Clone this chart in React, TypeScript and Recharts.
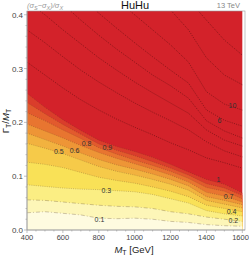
import React from 'react'
import { ComposedChart, Area, Line, Scatter, XAxis, YAxis } from 'recharts'

// grid of top-quark-partner masses (GeV)
const massPoints = [400, 500, 600, 700, 800, 900, 1000, 1100, 1200, 1300, 1400, 1500, 1600]

// contour levels of (sigma_S - sigma_X)/sigma_X, given as Gamma_T/M_T along the mass grid
const level10 = [0.254, 0.228, 0.205, 0.185, 0.167, 0.155, 0.146, 0.135, 0.122, 0.108, 0.094, 0.085, 0.069]
const level09 = [0.237, 0.216, 0.196, 0.178, 0.16, 0.148, 0.138, 0.127, 0.115, 0.102, 0.086, 0.078, 0.064]
const level08 = [0.218, 0.203, 0.186, 0.17, 0.153, 0.141, 0.13, 0.12, 0.109, 0.096, 0.079, 0.072, 0.058]
const level07 = [0.197, 0.184, 0.171, 0.157, 0.144, 0.133, 0.123, 0.113, 0.102, 0.089, 0.07, 0.063, 0.052]
const level06 = [0.18, 0.168, 0.156, 0.143, 0.131, 0.121, 0.113, 0.104, 0.094, 0.082, 0.062, 0.055, 0.047]
const level05 = [0.161, 0.152, 0.142, 0.13, 0.118, 0.109, 0.102, 0.094, 0.085, 0.074, 0.055, 0.048, 0.041]
const level04 = [0.126, 0.122, 0.116, 0.107, 0.098, 0.092, 0.087, 0.08, 0.072, 0.062, 0.046, 0.04, 0.034]
const level03 = [0.084, 0.081, 0.078, 0.076, 0.075, 0.073, 0.071, 0.066, 0.058, 0.05, 0.036, 0.03, 0.026]
const level02 = [0.056, 0.055, 0.052, 0.049, 0.046, 0.044, 0.043, 0.04, 0.034, 0.03, 0.024, 0.02, 0.016]
const level01 = [0.032, 0.034, 0.031, 0.028, 0.022, 0.021, 0.022, 0.02, 0.016, 0.014, 0.01, 0.008, 0.007]

// higher contours inside the saturated (red) region
const level2 = [0.312, 0.288, 0.264, 0.242, 0.223, 0.206, 0.191, 0.177, 0.162, 0.149, 0.134, 0.125, 0.115]
const level3 = [0.372, 0.348, 0.322, 0.297, 0.275, 0.255, 0.236, 0.219, 0.203, 0.186, 0.164, 0.147, 0.136]
const level4 = [0.424, 0.4, 0.372, 0.346, 0.32, 0.297, 0.275, 0.255, 0.236, 0.217, 0.186, 0.167, 0.156]
const level5 = [0.474, 0.45, 0.42, 0.39, 0.362, 0.336, 0.312, 0.288, 0.268, 0.245, 0.203, 0.184, 0.171]
const level6 = [0.53, 0.498, 0.465, 0.433, 0.403, 0.375, 0.348, 0.322, 0.297, 0.273, 0.223, 0.204, 0.193]
const level10x = [0.576, 0.543, 0.511, 0.483, 0.455, 0.428, 0.4, 0.372, 0.344, 0.312, 0.257, 0.234, 0.223]
const level20 = [null, null, null, null, null, null, null, 0.446, 0.409, 0.372, 0.32, 0.288, 0.27]
const level30 = [null, null, null, null, null, null, null, null, null, 0.428, 0.39, 0.353, 0.325]

const contourLabels = [
  { m: 577, g: 0.145, text: '0.5' },
  { m: 665, g: 0.147, text: '0.6' },
  { m: 732, g: 0.16, text: '0.8' },
  { m: 848, g: 0.154, text: '0.9' },
  { m: 842, g: 0.074, text: '0.3' },
  { m: 804, g: 0.02, text: '0.1' },
  { m: 1467, g: 0.093, text: '1' },
  { m: 1523, g: 0.063, text: '0.7' },
  { m: 1540, g: 0.035, text: '0.4' },
  { m: 1550, g: 0.017, text: '0.2' },
  { m: 1473, g: 0.204, text: '6' },
  { m: 1545, g: 0.232, text: '10' },
]

const xTicks = [400, 450, 500, 550, 600, 650, 700, 750, 800, 850, 900, 950, 1000, 1050, 1100, 1150, 1200, 1250, 1300, 1350, 1400, 1450, 1500, 1550, 1600]
const yTicks = [0, 0.02, 0.04, 0.06, 0.08, 0.1, 0.12, 0.14, 0.16, 0.18, 0.2, 0.22, 0.24, 0.26, 0.28, 0.3, 0.32, 0.34, 0.36, 0.38, 0.4]

const data = massPoints.map((m, i) => ({
  m,
  c10: level10[i],
  c09: level09[i],
  c08: level08[i],
  c07: level07[i],
  c06: level06[i],
  c05: level05[i],
  c04: level04[i],
  c03: level03[i],
  c02: level02[i],
  c01: level01[i],
  r2: level2[i],
  r3: level3[i],
  r4: level4[i],
  r5: level5[i],
  r6: level6[i],
  r10: level10x[i],
  r20: level20[i],
  r30: level30[i],
}))

// fill below each contour = colour of the band just under it
const bands = [
  { key: 'c10', fill: '#DA3D2B', dash: '1 1.2' },
  { key: 'c09', fill: '#E25A2D', dash: '1 1.2' },
  { key: 'c08', fill: '#E87530', dash: '1 1.2' },
  { key: 'c07', fill: '#EE9536', dash: '1 1.2' },
  { key: 'c06', fill: '#F2B23F', dash: '1 1.2' },
  { key: 'c05', fill: '#F6CA49', dash: '1 1.2' },
  { key: 'c04', fill: '#F9E157', dash: '1 1.2' },
  { key: 'c03', fill: '#FBEE83', dash: '1 1.2' },
  { key: 'c02', fill: '#FDF6B8', dash: '4 2 1 2' },
  { key: 'c01', fill: '#FEFBE0', dash: '4 2 1 2' },
]
const redLines = ['r2', 'r3', 'r4', 'r5', 'r6', 'r10', 'r20', 'r30']

const FONT = '"Liberation Sans", Arial, sans-serif'
const RED = '#D3222A'

function XTick({ x, y, payload }: any) {
  const major = payload.value % 200 === 0
  return (
    <g>
      <line x1={x} x2={x} y1={y} y2={y + (major ? 3 : 1.5)} stroke="#999" strokeWidth={0.6} />
      {major && (
        <text x={Math.min(x, 240.5)} y={y + 10} textAnchor="middle" fontSize={7.5} fill="#444" fontFamily={FONT}>
          {payload.value}
        </text>
      )}
    </g>
  )
}

function YTick({ x, y, payload }: any) {
  const v = payload.value
  const major = Math.abs(v * 10 - Math.round(v * 10)) < 1e-6
  return (
    <g>
      <line x1={x} x2={x - (major ? 3 : 1.5)} y1={y} y2={y} stroke="#999" strokeWidth={0.6} />
      {major && (
        <text x={x - 4} y={y + 3} textAnchor="end" fontSize={8} fill="#444" fontFamily={FONT}>
          {v.toFixed(1)}
        </text>
      )}
    </g>
  )
}

function ContourLabel(props: any) {
  const { cx, cy, payload } = props
  return (
    <text x={cx} y={cy + 2.5} textAnchor="middle" fontSize={7} fill="#333" fontFamily={FONT}>
      {payload.text}
    </text>
  )
}

export default function App() {
  return (
    <div style={{ position: 'absolute', left: 0, top: 0, width: 249, height: 256 }}>
      <ComposedChart width={249} height={256} data={data} margin={{ top: 11, right: 4, bottom: 0, left: 0 }}>
        <XAxis
          dataKey="m"
          type="number"
          domain={[400, 1615]}
          ticks={xTicks}
          interval={0}
          allowDataOverflow
          tick={<XTick />}
          tickLine={false}
          tickSize={0}
          tickMargin={0}
          height={26}
          axisLine={{ stroke: '#aaa', strokeWidth: 0.8 }}
        />
        <YAxis
          type="number"
          domain={[0, 0.407]}
          ticks={yTicks}
          interval={0}
          allowDataOverflow
          tick={<YTick />}
          tickLine={false}
          tickSize={0}
          tickMargin={0}
          width={27}
          axisLine={{ stroke: '#aaa', strokeWidth: 0.8 }}
        />
        <Area
          dataKey={() => 0.407}
          type="linear"
          fill={RED}
          fillOpacity={1}
          stroke="none"
          baseValue={0}
          isAnimationActive={false}
          dot={false}
          activeDot={false}
        />
        {bands.map((b) => (
          <Area
            key={b.key}
            dataKey={b.key}
            type="linear"
            fill={b.fill}
            fillOpacity={1}
            stroke="#4a3020"
            strokeOpacity={0.45}
            strokeWidth={0.6}
            strokeDasharray={b.dash}
            baseValue={0}
            isAnimationActive={false}
            dot={false}
            activeDot={false}
          />
        ))}
        {redLines.map((k) => (
          <Line
            key={k}
            dataKey={k}
            type="linear"
            stroke="#4a0a0a"
            strokeOpacity={0.75}
            strokeWidth={0.7}
            strokeDasharray="1 1.3"
            isAnimationActive={false}
            dot={false}
            activeDot={false}
          />
        ))}
        <Scatter
          data={contourLabels}
          dataKey="g"
          shape={<ContourLabel />}
          isAnimationActive={false}
        />
      </ComposedChart>
      <svg
        width={249}
        height={256}
        style={{ position: 'absolute', left: 0, top: 0, pointerEvents: 'none' }}
        fontFamily={FONT}
      >
        <rect x={27} y={11} width={218} height={219} fill="none" stroke="#999" strokeWidth={0.6} />
        <text x={27} y={8} fontSize={7.5} fill="#999" fontStyle="italic">
          (σ<tspan fontSize={5.5} dy={1.5}>S</tspan>
          <tspan dy={-1.5}>−σ</tspan>
          <tspan fontSize={5.5} dy={1.5}>X</tspan>
          <tspan dy={-1.5}>)/σ</tspan>
          <tspan fontSize={5.5} dy={1.5}>X</tspan>
        </text>
        <text x={135} y={9} fontSize={11} fill="#111" textAnchor="middle">
          HuHu
        </text>
        <text x={240} y={8} fontSize={7.5} fill="#888" textAnchor="end">
          13 TeV
        </text>
        <text x={134} y={253} fontSize={9.5} fill="#222" textAnchor="middle">
          <tspan fontStyle="italic">M</tspan>
          <tspan fontSize={7} dy={2}>T</tspan>
          <tspan dy={-2}> [GeV]</tspan>
        </text>
        <text x={9} y={121} fontSize={9.5} fill="#222" textAnchor="middle" transform="rotate(-90 9 121)">
          Γ<tspan fontSize={7} dy={2}>T</tspan>
          <tspan dy={-2}>/</tspan>
          <tspan fontStyle="italic">M</tspan>
          <tspan fontSize={7} dy={2}>T</tspan>
        </text>
      </svg>
    </div>
  )
}
